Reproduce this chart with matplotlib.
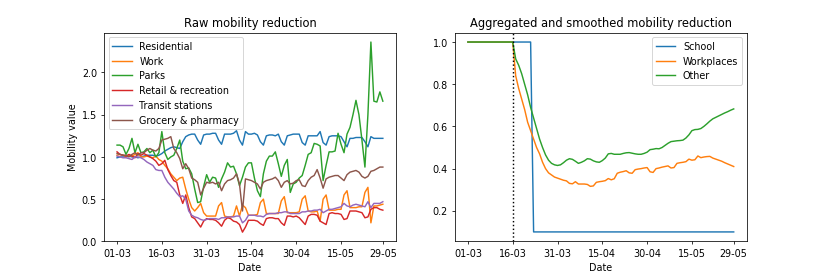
import matplotlib
matplotlib.use('Agg')
import matplotlib.pyplot as plt
import matplotlib.dates as mdates
import pandas as pd

dates = pd.date_range('2020-03-01', '2020-05-29', freq='D')
tick_dates = pd.to_datetime(['2020-03-01', '2020-03-16', '2020-03-31', '2020-04-15',
                             '2020-04-30', '2020-05-15', '2020-05-29'])
lockdown = pd.Timestamp('2020-03-16')

# raw mobility per category (one value per day)
residential = [0.99, 1.00, 1.00, 1.00, 1.01, 1.00, 1.00, 0.99, 1.00, 1.01,
               1.02, 1.02, 1.02, 1.01, 1.02, 1.04, 1.07, 1.09, 1.11, 1.12,
               1.11, 1.10, 1.18, 1.24, 1.26, 1.27, 1.27, 1.20, 1.15, 1.26,
               1.27, 1.27, 1.28, 1.28, 1.20, 1.15, 1.27, 1.27, 1.27, 1.28,
               1.31, 1.20, 1.14, 1.30, 1.27, 1.27, 1.28, 1.26, 1.18, 1.14,
               1.25, 1.26, 1.26, 1.25, 1.27, 1.18, 1.14, 1.25, 1.26, 1.27,
               1.27, 1.27, 1.17, 1.14, 1.25, 1.25, 1.25, 1.25, 1.30, 1.17,
               1.14, 1.24, 1.25, 1.25, 1.25, 1.24, 1.18, 1.12, 1.22, 1.22,
               1.23, 1.23, 1.23, 1.18, 1.12, 1.24, 1.22, 1.22, 1.22, 1.22]
work = [1.02, 1.03, 1.02, 1.01, 1.02, 1.01, 1.03, 1.05, 1.00, 1.00,
        1.01, 1.00, 0.99, 1.01, 0.97, 0.95, 0.90, 0.86, 0.80, 0.76,
        0.72, 0.75, 0.76, 0.62, 0.50, 0.40, 0.36, 0.40, 0.45, 0.34,
        0.30, 0.30, 0.30, 0.30, 0.42, 0.46, 0.30, 0.29, 0.29, 0.30,
        0.42, 0.30, 0.43, 0.40, 0.31, 0.31, 0.31, 0.32, 0.46, 0.50,
        0.33, 0.33, 0.33, 0.33, 0.33, 0.48, 0.53, 0.34, 0.34, 0.34,
        0.34, 0.35, 0.50, 0.54, 0.36, 0.35, 0.35, 0.36, 0.24, 0.50,
        0.55, 0.37, 0.37, 0.37, 0.38, 0.38, 0.55, 0.60, 0.40, 0.40,
        0.40, 0.41, 0.41, 0.58, 0.64, 0.22, 0.42, 0.42, 0.43, 0.44]
parks = [1.14, 1.14, 1.12, 1.03, 1.10, 1.22, 1.05, 1.15, 1.05, 1.06,
         1.10, 1.05, 1.08, 1.00, 1.05, 1.30, 1.05, 0.97, 1.00, 1.02,
         1.10, 1.20, 0.95, 0.86, 0.87, 0.80, 0.62, 0.46, 0.47, 0.65,
         0.79, 0.70, 0.76, 0.75, 0.64, 0.74, 0.82, 0.93, 0.88, 0.89,
         0.80, 0.66, 0.76, 0.88, 0.93, 0.93, 0.75, 0.60, 0.53, 0.80,
         0.95, 1.01, 1.01, 1.06, 0.92, 0.77, 0.90, 0.97, 0.58, 0.68,
         0.70, 0.75, 0.78, 0.90, 1.03, 1.05, 1.16, 1.15, 1.13, 0.72,
         0.90, 1.06, 1.06, 1.07, 1.28, 1.15, 1.05, 1.27, 1.35, 1.50,
         1.67, 1.50, 1.20, 0.88, 1.50, 2.36, 1.66, 1.65, 1.77, 1.66]
retail = [1.06, 1.03, 1.02, 1.01, 1.03, 1.01, 0.99, 1.04, 1.02, 1.04,
          1.02, 1.00, 0.98, 0.95, 0.90, 0.92, 0.96, 0.85, 0.78, 0.72,
          0.70, 0.55, 0.45, 0.55, 0.40, 0.29, 0.27, 0.22, 0.17, 0.24,
          0.27, 0.26, 0.26, 0.25, 0.22, 0.18, 0.25, 0.28, 0.27, 0.24,
          0.23, 0.20, 0.11, 0.17, 0.25, 0.25, 0.25, 0.24, 0.21, 0.19,
          0.27, 0.28, 0.28, 0.27, 0.27, 0.22, 0.19, 0.30, 0.30, 0.29,
          0.30, 0.28, 0.24, 0.20, 0.30, 0.32, 0.32, 0.31, 0.24, 0.22,
          0.20, 0.33, 0.34, 0.33, 0.33, 0.32, 0.26, 0.27, 0.36, 0.36,
          0.36, 0.35, 0.34, 0.28, 0.29, 0.38, 0.40, 0.40, 0.38, 0.37]
transit = [1.01, 1.00, 0.99, 0.99, 0.98, 0.97, 1.00, 1.00, 0.99, 0.97,
           0.94, 0.92, 0.90, 0.85, 0.84, 0.84, 0.76, 0.70, 0.66, 0.62,
           0.57, 0.53, 0.54, 0.50, 0.36, 0.31, 0.29, 0.28, 0.26, 0.25,
           0.26, 0.27, 0.27, 0.27, 0.26, 0.28, 0.28, 0.29, 0.29, 0.29,
           0.30, 0.30, 0.22, 0.25, 0.31, 0.31, 0.31, 0.30, 0.30, 0.29,
           0.32, 0.33, 0.33, 0.33, 0.34, 0.34, 0.35, 0.35, 0.33, 0.33,
           0.33, 0.33, 0.35, 0.35, 0.36, 0.36, 0.37, 0.37, 0.38, 0.34,
           0.36, 0.38, 0.38, 0.39, 0.40, 0.41, 0.45, 0.42, 0.41, 0.43,
           0.44, 0.43, 0.42, 0.41, 0.47, 0.40, 0.45, 0.45, 0.45, 0.47]
grocery = [1.04, 1.03, 1.02, 1.02, 1.00, 1.03, 1.05, 1.02, 1.05, 1.05,
           1.08, 1.10, 1.08, 1.07, 1.10, 1.20, 1.21, 1.22, 1.24, 1.10,
           1.05, 0.98, 0.86, 0.92, 0.86, 0.75, 0.73, 0.70, 0.55, 0.63,
           0.70, 0.69, 0.70, 0.68, 0.70, 0.60, 0.68, 0.72, 0.73, 0.75,
           0.80, 0.68, 0.36, 0.74, 0.73, 0.72, 0.70, 0.68, 0.62, 0.70,
           0.72, 0.73, 0.74, 0.76, 0.72, 0.64, 0.70, 0.72, 0.68, 0.69,
           0.72, 0.73, 0.66, 0.65, 0.72, 0.76, 0.78, 0.85, 0.75, 0.63,
           0.74, 0.76, 0.77, 0.78, 0.78, 0.75, 0.72, 0.79, 0.82, 0.83,
           0.84, 0.82, 0.77, 0.75, 0.77, 0.83, 0.84, 0.86, 0.88, 0.88]

# aggregated / smoothed
school = [1.0] * 22 + [0.1] * 68
workplaces = [1.0] * 16 + [
    0.84, 0.78, 0.73, 0.68, 0.62, 0.58, 0.54, 0.50, 0.47, 0.43,
    0.40, 0.38, 0.37, 0.36, 0.355, 0.35, 0.345, 0.342, 0.33, 0.328,
    0.338, 0.327, 0.327, 0.327, 0.325, 0.316, 0.318, 0.335, 0.338, 0.34,
    0.343, 0.353, 0.347, 0.352, 0.378, 0.383, 0.386, 0.39, 0.38, 0.378,
    0.395, 0.398, 0.40, 0.403, 0.405, 0.385, 0.382, 0.40, 0.403, 0.407,
    0.41, 0.413, 0.403, 0.405, 0.425, 0.428, 0.43, 0.433, 0.445, 0.44,
    0.442, 0.46, 0.452, 0.455, 0.457, 0.458, 0.45, 0.445, 0.44, 0.435,
    0.428, 0.422, 0.416, 0.41]
other = [1.0] * 16 + [
    0.92, 0.89, 0.85, 0.80, 0.75, 0.69, 0.64, 0.59, 0.54, 0.50,
    0.465, 0.44, 0.425, 0.418, 0.415, 0.418, 0.428, 0.44, 0.447, 0.444,
    0.435, 0.425, 0.43, 0.437, 0.447, 0.445, 0.437, 0.432, 0.43, 0.438,
    0.45, 0.47, 0.472, 0.468, 0.468, 0.468, 0.472, 0.475, 0.476, 0.473,
    0.47, 0.468, 0.468, 0.472, 0.478, 0.49, 0.492, 0.495, 0.494, 0.50,
    0.51, 0.52, 0.528, 0.53, 0.532, 0.533, 0.535, 0.545, 0.56, 0.58,
    0.585, 0.586, 0.59, 0.60, 0.612, 0.625, 0.636, 0.643, 0.65, 0.657,
    0.664, 0.67, 0.677, 0.683]

fig, (ax1, ax2) = plt.subplots(1, 2, figsize=(12, 4))
fig.subplots_adjust(bottom=0.125)

ax1.plot(dates, residential, label='Residential')
ax1.plot(dates, work, label='Work')
ax1.plot(dates, parks, label='Parks')
ax1.plot(dates, retail, label='Retail & recreation')
ax1.plot(dates, transit, label='Transit stations')
ax1.plot(dates, grocery, label='Grocery & pharmacy')
ax1.set_ylim(bottom=0)
ax1.set_title('Raw mobility reduction')
ax1.set_xlabel('Date')
ax1.set_ylabel('Mobility value')
ax1.legend(loc='upper left')

ax2.plot(dates, school, label='School')
ax2.plot(dates, workplaces, label='Workplaces')
ax2.plot(dates, other, label='Other')
ax2.axvline(lockdown, color='black', linestyle=':')
ax2.set_title('Aggregated and smoothed mobility reduction')
ax2.set_xlabel('Date')
ax2.legend(loc='upper right')

for ax in (ax1, ax2):
    ax.set_xticks(tick_dates)
    ax.xaxis.set_major_formatter(mdates.DateFormatter('%d-%m'))

fig.savefig('out.png', dpi=830 / 12)
